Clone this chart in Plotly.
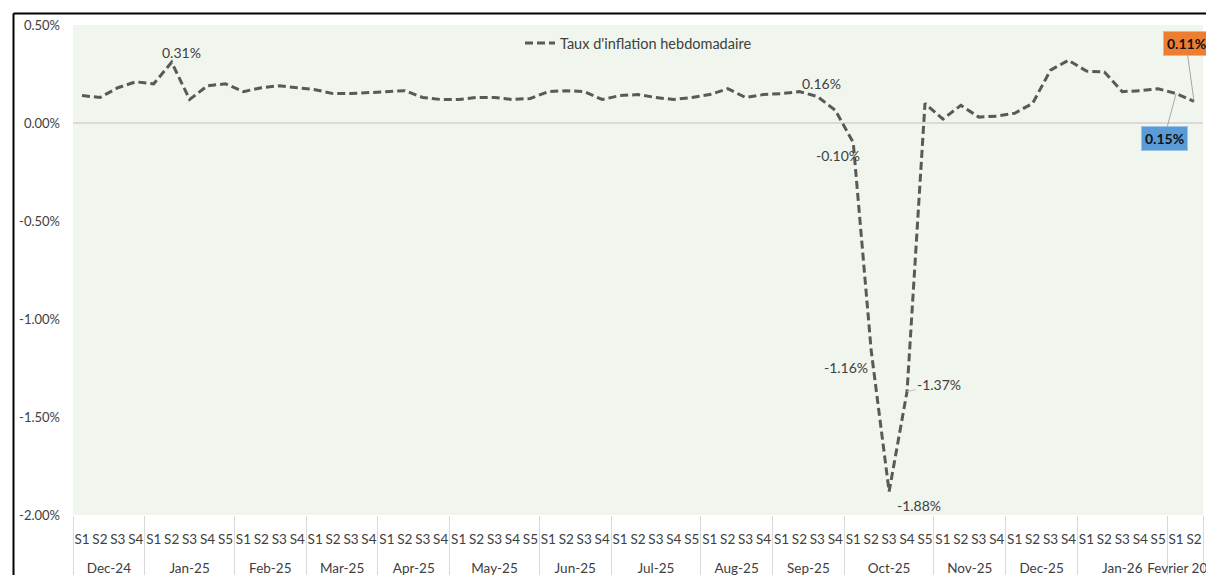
import plotly.graph_objects as go

# ---------------- data ----------------
months = ["Dec-24", "Jan-25", "Feb-25", "Mar-25", "Apr-25", "May-25", "Jun-25",
          "Jul-25", "Aug-25", "Sep-25", "Oct-25", "Nov-25", "Dec-25", "Jan-26",
          "Fevrier 2026"]
weeks_per_month = [4, 5, 4, 4, 4, 5, 4, 5, 4, 4, 5, 4, 4, 5, 2]

# weekly inflation rate, in %
values = [0.14, 0.13, 0.18, 0.21,                 # Dec-24
          0.20, 0.31, 0.12, 0.19, 0.20,           # Jan-25
          0.16, 0.18, 0.19, 0.18,                 # Feb-25
          0.17, 0.15, 0.15, 0.155,                # Mar-25
          0.16, 0.165, 0.13, 0.12,                # Apr-25
          0.12, 0.13, 0.13, 0.12, 0.125,          # May-25
          0.16, 0.165, 0.16, 0.12,                # Jun-25
          0.14, 0.145, 0.13, 0.12, 0.13,          # Jul-25
          0.145, 0.175, 0.13, 0.145,              # Aug-25
          0.15, 0.16, 0.135, 0.065,               # Sep-25
          -0.10, -1.16, -1.88, -1.37, 0.10,       # Oct-25
          0.02, 0.09, 0.03, 0.035,                # Nov-25
          0.05, 0.10, 0.27, 0.32,                 # Dec-25
          0.265, 0.26, 0.16, 0.165, 0.175,        # Jan-26
          0.15, 0.11]                             # Fevrier 2026

series_name = "Taux d'inflation hebdomadaire"
y_ticks = [0.5, 0.0, -0.5, -1.0, -1.5, -2.0]
y_ticktext = [f"{v:.2f}%" for v in y_ticks]

# ---------------- styling ----------------
FONT = "Lato, Carlito, Calibri, 'Open Sans', sans-serif"
TXT = "#404040"
W, H = 1206, 575
ML, MR, MT, MB = 73, 3, 25, 60
PW, PH = W - ML - MR, H - MT - MB
XFS = "13.5px"  # visible size of the category labels


def xlab(s):
    return f"<span style='font-size:{XFS}'>{s}</span>"


# categories (two levels)
month_cat = []
week_cat = []
for m, n in zip(months, weeks_per_month):
    for k in range(n):
        month_cat.append("<br>" + xlab(m))
        week_cat.append(xlab(f"S{k + 1}"))

n_pts = len(values)

fig = go.Figure()
fig.add_trace(go.Scatter(
    x=[month_cat, week_cat], y=values, mode="lines", name=series_name,
    line=dict(color="#595959", width=3, dash="8px,4px"),
    showlegend=True, hoverinfo="y",
))

# plain data labels: index -> (dx, dy) pixel offsets of text centre (dy down positive)
plain_labels = {5: (10, -10), 40: (22, -8), 43: (-15, 13), 44: (-25, 17), 45: (30, 14)}
annotations = []
for i, (dx, dy) in plain_labels.items():
    annotations.append(dict(
        x=i, y=values[i], xref="x2", yref="y", text=f"{values[i]:.2f}%",
        showarrow=False, xanchor="center", yanchor="middle",
        xshift=dx, yshift=-dy, font=dict(family=FONT, size=14, color=TXT)))

# label with short leader line
annotations.append(dict(
    x=46, y=values[46], xref="x2", yref="y", text=f"{values[46]:.2f}%",
    showarrow=True, arrowhead=0, arrowwidth=1, arrowcolor="#BFBFBF",
    ax=32, ay=-7, standoff=0, font=dict(family=FONT, size=14, color=TXT)))

# callout boxes
callouts = {61: ("#5B9BD5", "#9DC3E6", -12, 45), 62: ("#ED7D31", "#F4B183", -8, -58)}
for i, (bg, bc, ax, ay) in callouts.items():
    annotations.append(dict(
        x=i, y=values[i], xref="x2", yref="y", text=f"<b>{values[i]:.2f}%</b>",
        showarrow=True, arrowhead=0, arrowwidth=1, arrowcolor="#A6A6A6",
        ax=ax, ay=ay, standoff=0, bgcolor=bg, bordercolor=bc, borderwidth=1,
        borderpad=3, font=dict(family=FONT, size=14, color="#111111")))

# frame lines (black border of chart area)
fx = (13.5 - ML) / PW
fy = (H - MB - 13.5) / PH
shapes = [
    dict(type="line", xref="paper", yref="paper", x0=fx, x1=1.05, y0=fy, y1=fy,
         line=dict(color="black", width=2), layer="above"),
    dict(type="line", xref="paper", yref="paper", x0=fx, x1=fx, y0=fy, y1=-0.2,
         line=dict(color="black", width=2), layer="above"),
]

fig.update_layout(
    width=W, height=H,
    margin=dict(l=ML, r=MR, t=MT, b=MB, autoexpand=False),
    paper_bgcolor="white", plot_bgcolor="#F0F6EE",
    font=dict(family=FONT, size=13, color=TXT),
    showlegend=True,
    legend=dict(orientation="h", x=(520 - ML) / PW, xanchor="left",
                y=(H - MB - 43) / PH, yanchor="middle",
                bgcolor="rgba(0,0,0,0)", font=dict(family=FONT, size=14.5, color=TXT)),
    xaxis=dict(type="multicategory", range=[-0.5, n_pts - 0.5], showgrid=False,
               showline=False, zeroline=False, ticks="", tickangle=0,
               tickmode="linear", tick0=0, dtick=1,
               ticklabelstandoff=11,
               showdividers=True, dividercolor="#D9D9D9", dividerwidth=1,
               tickfont=dict(family=FONT, size=17, color=TXT), automargin=False),
    xaxis2=dict(overlaying="x", range=[-0.5, n_pts - 0.5], visible=False,
                anchor="y"),
    yaxis=dict(range=[-2.0, 0.5], tickvals=y_ticks, ticktext=y_ticktext,
               showgrid=False, zeroline=True, zerolinecolor="#D9D9D9", zerolinewidth=1.5,
               showline=False, ticks="", ticklabelstandoff=12,
               tickfont=dict(family=FONT, size=13, color=TXT), automargin=False),
    annotations=annotations, shapes=shapes,
)

fig.write_html("out.html",
               config={"displayModeBar": False},
               post_script="document.body.style.margin='0';"
                           "document.body.style.overflow='hidden';")
